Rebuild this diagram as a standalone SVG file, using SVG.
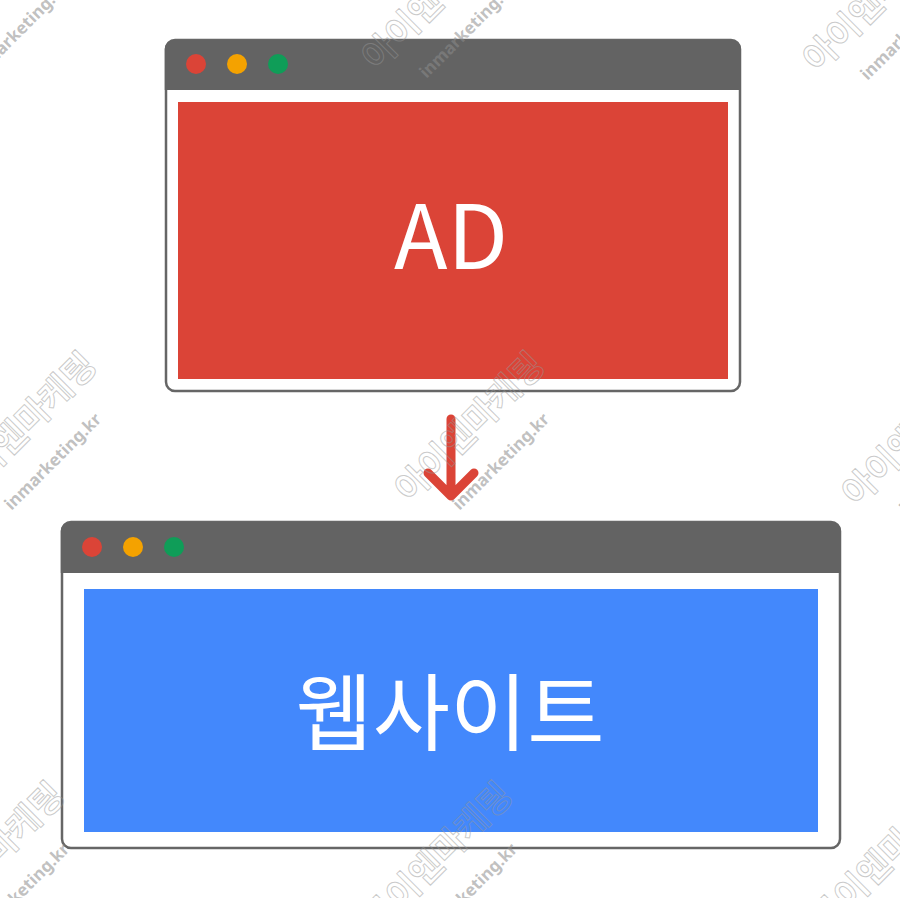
<svg xmlns="http://www.w3.org/2000/svg" width="900" height="898" viewBox="0 0 900 898">
<defs>
<style>
.frame{fill:#ffffff;stroke:#666666;stroke-width:2.5}
.bar{fill:#636363}
.red{fill:#DB4437}
.yel{fill:#F4A200}
.grn{fill:#0F9D58}
.title{fill:#ffffff;font-family:"Noto Sans CJK KR","Noto Sans",sans-serif;text-anchor:middle}
.wk{font-family:"Noto Sans CJK KR","Noto Sans",sans-serif;font-size:35px;font-weight:bold;fill:none;stroke:rgba(150,150,150,0.5);stroke-width:1}
.we{font-family:"Noto Sans","Open Sans",sans-serif;font-size:17px;font-weight:bold;fill:rgba(140,140,140,0.55)}
.arrow{fill:none;stroke:#DB4437;stroke-width:9;stroke-linecap:round;stroke-linejoin:round}
</style>
</defs>
<rect width="900" height="898" fill="#ffffff"/>
<g id="ad-window">
<rect class="frame" x="166" y="40" width="574" height="351" rx="9"/>
<path class="bar" d="M164.75,90 V49 a9,9 0 0 1 9,-9 H732 a9,9 0 0 1 9,9 V90 Z"/>
<circle class="red" cx="196" cy="64" r="10"/>
<circle class="yel" cx="237" cy="64" r="10"/>
<circle class="grn" cx="278" cy="64" r="10"/>
<rect class="red" x="178" y="102" width="550" height="277"/>
<text class="title" x="451" y="269" font-size="88">AD</text>
</g>
<g id="website-window">
<rect class="frame" x="62" y="522" width="778" height="326" rx="9"/>
<path class="bar" d="M60.75,573 V531 a9,9 0 0 1 9,-9 H832 a9,9 0 0 1 9,9 V573 Z"/>
<circle class="red" cx="92" cy="547" r="10"/>
<circle class="yel" cx="133" cy="547" r="10"/>
<circle class="grn" cx="174" cy="547" r="10"/>
<rect fill="#4388FC" x="84" y="589" width="734" height="243"/>
<text class="title" x="450" y="744" font-size="84">웹사이트</text>
</g>
<g id="connectors">
<path class="arrow" d="M451,419 V494 M428,473 L451,496 L474,473"/>
</g>
<g id="watermarks">
<g transform="translate(-71,72) rotate(-45)"><text class="wk" x="0" y="0">아이엔마케팅</text><text class="we" x="30" y="40">inmarketing.kr</text></g>
<g transform="translate(377,72) rotate(-45)"><text class="wk" x="0" y="0">아이엔마케팅</text><text class="we" x="30" y="40">inmarketing.kr</text></g>
<g transform="translate(818,74) rotate(-45)"><text class="wk" x="0" y="0">아이엔마케팅</text><text class="we" x="30" y="40">inmarketing.kr</text></g>
<g transform="translate(-38,504) rotate(-45)"><text class="wk" x="0" y="0">아이엔마케팅</text><text class="we" x="30" y="40">inmarketing.kr</text></g>
<g transform="translate(410,504) rotate(-45)"><text class="wk" x="0" y="0">아이엔마케팅</text><text class="we" x="30" y="40">inmarketing.kr</text></g>
<g transform="translate(857,508) rotate(-45)"><text class="wk" x="0" y="0">아이엔마케팅</text><text class="we" x="30" y="40">inmarketing.kr</text></g>
<g transform="translate(-70,934) rotate(-45)"><text class="wk" x="0" y="0">아이엔마케팅</text><text class="we" x="30" y="40">inmarketing.kr</text></g>
<g transform="translate(378,934) rotate(-45)"><text class="wk" x="0" y="0">아이엔마케팅</text><text class="we" x="30" y="40">inmarketing.kr</text></g>
<g transform="translate(826,934) rotate(-45)"><text class="wk" x="0" y="0">아이엔마케팅</text><text class="we" x="30" y="40">inmarketing.kr</text></g>
</g>
</svg>
